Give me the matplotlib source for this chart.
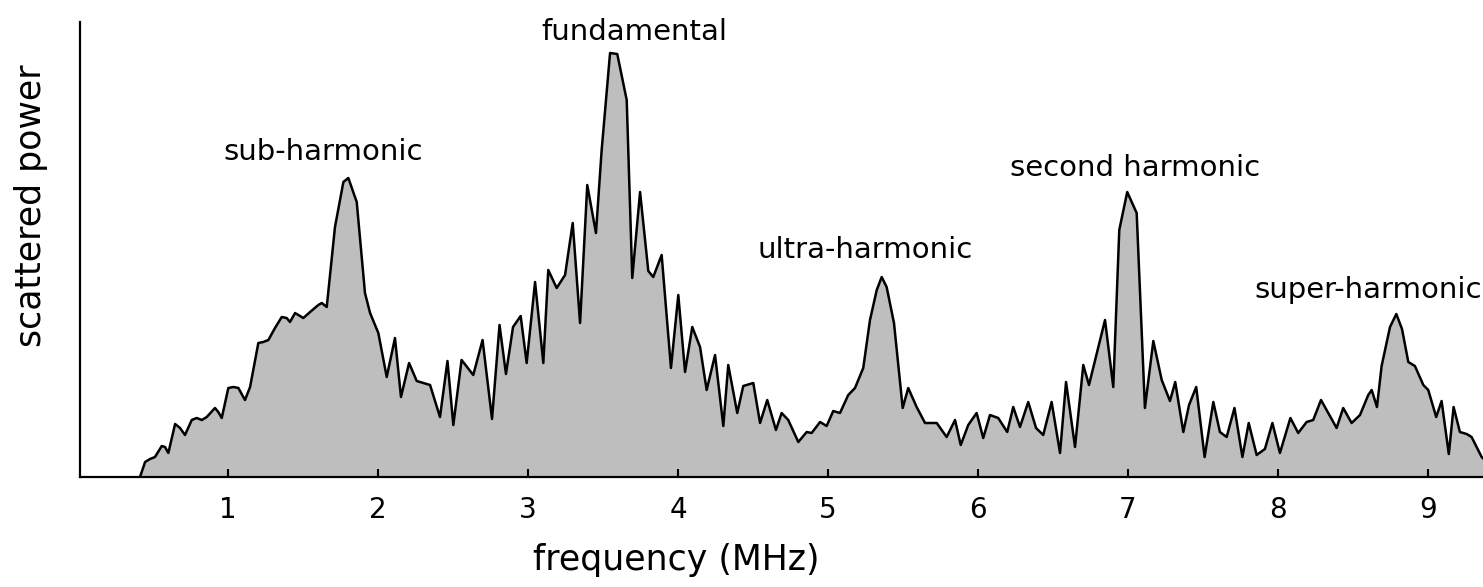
import matplotlib
matplotlib.use("Agg")
import matplotlib.pyplot as plt

# === SPEKTRUM (Frequenz in MHz, Streuleistung in willkuerlichen Einheiten) ===
freq = [
    0.413, 0.447, 0.480, 0.513, 0.558, 0.580, 0.602, 0.647, 0.680, 0.713,
    0.758, 0.791, 0.825, 0.858, 0.913, 0.935, 0.958, 1.002, 1.035, 1.069,
    1.113, 1.147, 1.202, 1.235, 1.269, 1.313, 1.358, 1.391, 1.413, 1.447,
    1.469, 1.502, 1.547, 1.602, 1.625, 1.658, 1.713, 1.769, 1.802, 1.858,
    1.913, 1.947, 2.002, 2.058, 2.113, 2.153, 2.207, 2.258, 2.347, 2.413,
    2.463, 2.502, 2.557, 2.635, 2.697, 2.760, 2.810, 2.853, 2.900, 2.951,
    2.991, 3.047, 3.102, 3.135, 3.191, 3.247, 3.298, 3.347, 3.395, 3.453,
    3.491, 3.547, 3.595, 3.658, 3.695, 3.747, 3.802, 3.835, 3.891, 3.953,
    4.002, 4.047, 4.095, 4.147, 4.191, 4.247, 4.302, 4.335, 4.395, 4.435,
    4.502, 4.547, 4.595, 4.653, 4.691, 4.735, 4.802, 4.858, 4.891, 4.947,
    4.991, 5.035, 5.080, 5.135, 5.180, 5.235, 5.280, 5.325, 5.358, 5.391,
    5.440, 5.498, 5.535, 5.591, 5.647, 5.725, 5.791, 5.847, 5.885, 5.935,
    5.991, 6.035, 6.080, 6.135, 6.195, 6.235, 6.280, 6.335, 6.387, 6.435,
    6.491, 6.547, 6.587, 6.647, 6.702, 6.740, 6.847, 6.902, 6.942, 6.995,
    7.058, 7.113, 7.169, 7.225, 7.280, 7.315, 7.369, 7.407, 7.455, 7.511,
    7.569, 7.613, 7.658, 7.710, 7.763, 7.805, 7.858, 7.913, 7.963, 8.013,
    8.083, 8.135, 8.191, 8.235, 8.287, 8.391, 8.435, 8.491, 8.547, 8.602,
    8.625, 8.660, 8.691, 8.747, 8.789, 8.827, 8.869, 8.913, 8.969, 9.002,
    9.055, 9.091, 9.139, 9.171, 9.213, 9.258, 9.291, 9.358, 9.413,
]
power = [
    0, 15, 18, 20, 31, 30, 24, 53, 49, 42,
    57, 59, 57, 60, 69, 65, 59, 89, 90, 89,
    77, 90, 134, 135, 137, 149, 160, 159, 155, 164,
    162, 159, 165, 172, 174, 170, 250, 295, 299, 275,
    184, 164, 144, 100, 139, 80, 114, 96, 92, 60,
    116, 52, 117, 102, 137, 58, 152, 103, 150, 161,
    114, 195, 114, 207, 189, 202, 254, 154, 292, 244,
    327, 424, 423, 377, 199, 285, 206, 200, 222, 109,
    182, 105, 150, 130, 87, 122, 51, 112, 64, 91,
    94, 54, 77, 47, 64, 57, 35, 45, 44, 55,
    51, 66, 64, 82, 89, 109, 157, 187, 200, 190,
    154, 69, 89, 70, 54, 54, 40, 57, 32, 52,
    64, 39, 62, 59, 45, 70, 50, 75, 49, 42,
    75, 24, 95, 30, 112, 92, 157, 90, 247, 285,
    264, 69, 136, 97, 76, 95, 45, 72, 90, 20,
    75, 45, 40, 69, 20, 54, 22, 28, 54, 24,
    59, 44, 55, 57, 77, 49, 69, 54, 62, 82,
    87, 70, 111, 150, 163, 148, 115, 111, 92, 87,
    60, 76, 23, 70, 45, 43, 40, 20, 12,
]

# === BESCHRIFTUNG DER MAXIMA ===
peak_names = ["sub-harmonic", "fundamental", "ultra-harmonic",
              "second harmonic", "super-harmonic"]
peak_text_x = [1.633, 3.707, 5.247, 7.047, 7.840]
peak_text_y = [317, 437, 219, 301, 179]
peak_text_ha = ["center", "center", "center", "center", "left"]

tick_pos = [1, 2, 3, 4, 5, 6, 7, 8, 9]

W, H = 1483, 587
fig = plt.figure(figsize=(W / 100, H / 100), dpi=100)
ax = fig.add_axes([80 / W, 110 / H, (W - 80) / W, 455 / H])

ax.fill_between(freq, power, color="#bebebe", lw=0)
ax.plot(freq, power, color="black", lw=1.8)

ax.set_xlim(0.013, 9.367)
ax.set_ylim(0, 455)

for sp in ["top", "right"]:
    ax.spines[sp].set_visible(False)
for sp in ["left", "bottom"]:
    ax.spines[sp].set_linewidth(1.6)
    ax.spines[sp].set_color("black")

ax.set_yticks([])
ax.set_xticks(tick_pos)
ax.set_xticklabels([str(t) for t in tick_pos])
ax.tick_params(axis="x", direction="in", length=6, width=1.5,
               labelsize=20, pad=14)

for name, tx, ty, ha in zip(peak_names, peak_text_x, peak_text_y, peak_text_ha):
    ax.text(tx, ty, name, ha=ha, va="baseline", fontsize=21, clip_on=False)

ax.set_xlabel("frequency (MHz)", fontsize=25)
ax.xaxis.set_label_coords(0.425, -0.145)
ax.set_ylabel("scattered power", fontsize=25)
ax.yaxis.set_label_coords(-0.023, 0.596)

fig.savefig("out.png", dpi=100)
plt.close(fig)
